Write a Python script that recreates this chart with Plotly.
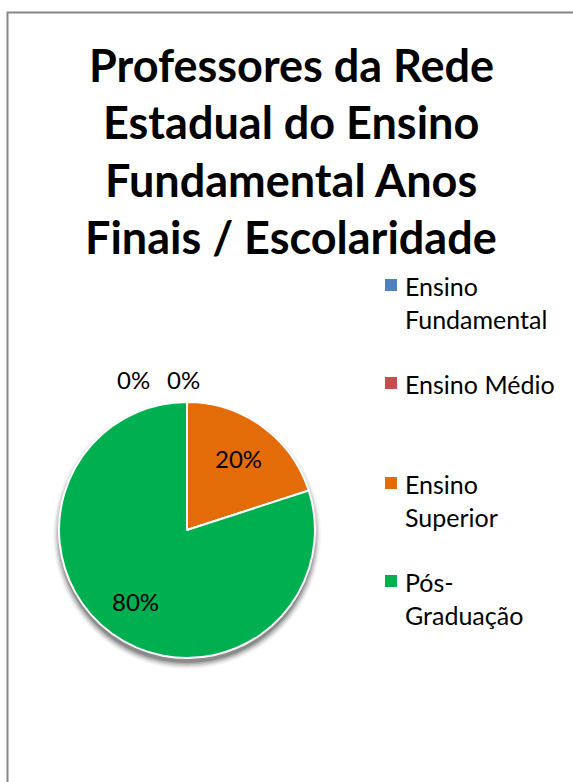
import math
import plotly.graph_objects as go

# Chart data
categories = ["Ensino Fundamental", "Ensino Médio", "Ensino Superior", "Pós-Graduação"]
legend_labels = ["Ensino<br>Fundamental", "Ensino Médio", "Ensino<br>Superior", "Pós-<br>Graduação"]
values = [0, 0, 20, 80]
colors = ["#4F81BD", "#C0504D", "#E36C09", "#00B050"]
title_lines = ["Professores da Rede", "Estadual do Ensino", "Fundamental Anos", "Finais / Escolaridade"]

W, H = 573, 782
FONT = "Lato"

# Pie geometry in pixels
cx, cy, R = 187, 530, 128


def px(x):
    return x / W


def py(y):
    return 1 - y / H


fig = go.Figure()

fig.add_trace(go.Pie(
    labels=categories,
    values=values,
    sort=False,
    direction="clockwise",
    rotation=0,
    marker=dict(colors=colors, line=dict(color="white", width=2)),
    textinfo="none",
    hoverinfo="label+percent",
    showlegend=False,
    domain=dict(x=[px(cx - R), px(cx + R)], y=[py(cy + R), py(cy - R)]),
))

shapes = []
annotations = []

# Outer chart-area border
shapes.append(dict(type="rect", xref="paper", yref="paper",
                   x0=px(7.5), x1=1.02, y0=-0.02, y1=py(12.5),
                   line=dict(color="#878787", width=2), fillcolor="rgba(0,0,0,0)", layer="below"))

# Soft drop shadow beneath the pie
for grow, op in [(6, 0.04), (4.5, 0.07), (3, 0.10), (1.5, 0.14), (0, 0.2)]:
    r = R + grow
    shapes.append(dict(type="circle", xref="paper", yref="paper",
                       x0=px(cx - r), x1=px(cx + r), y0=py(cy + 5 + r), y1=py(cy + 5 - r),
                       line=dict(width=0), fillcolor=f"rgba(0,0,0,{op})", layer="below"))

# Title, one annotation per line
for i, line in enumerate(title_lines):
    annotations.append(dict(text=f"<b>{line}</b>", x=px(291), y=py(65 + 57.3 * i),
                            xref="paper", yref="paper", showarrow=False,
                            xanchor="center", yanchor="middle",
                            font=dict(family=FONT, size=45, color="black")))

# Data labels, placed from each slice's mid-angle
total = sum(values)
start = 0.0
zero_offsets = [-54, -4]
zi = 0
for v in values:
    frac = v / total
    mid = (start + frac / 2) * 2 * math.pi
    text = f"{round(frac * 100)}%"
    if v == 0:
        lx = cx + zero_offsets[zi]
        ly = cy - 150
        zi += 1
    else:
        lx = cx + 0.69 * R * math.sin(mid)
        ly = cy - 0.69 * R * math.cos(mid)
    annotations.append(dict(text=text, x=px(lx), y=py(ly), xref="paper", yref="paper",
                            showarrow=False, xanchor="center", yanchor="middle",
                            font=dict(family=FONT, size=24, color="black")))
    start += frac

# Legend: colour squares with labels
legend_tops = [285, 383, 483, 581]
line_gap = 32.5
for lab, col, ty in zip(legend_labels, colors, legend_tops):
    n_lines = lab.count("<br>") + 1
    shapes.append(dict(type="rect", xref="paper", yref="paper",
                       x0=px(385), x1=px(397), y0=py(ty + 6), y1=py(ty - 6),
                       line=dict(width=0), fillcolor=col))
    annotations.append(dict(text=lab, x=px(403), y=py(ty + 1 + (n_lines - 1) * line_gap / 2),
                            xref="paper", yref="paper",
                            showarrow=False, xanchor="left", yanchor="middle", align="left",
                            font=dict(family=FONT, size=25, color="black")))

fig.update_layout(
    width=W, height=H,
    margin=dict(l=0, r=0, t=0, b=0),
    paper_bgcolor="white",
    plot_bgcolor="white",
    shapes=shapes,
    annotations=annotations,
)

fig.write_html("out.html")
